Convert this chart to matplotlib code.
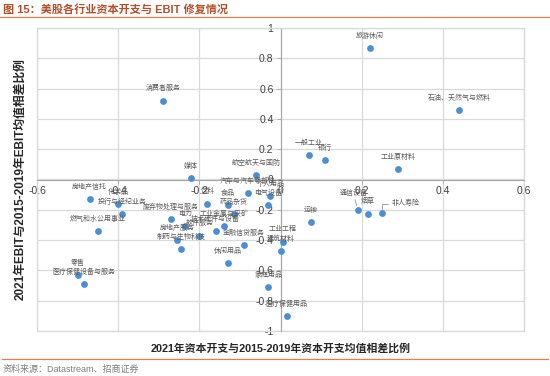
import matplotlib
matplotlib.use("Agg")
import matplotlib.pyplot as plt
from matplotlib.patches import Rectangle
from matplotlib.lines import Line2D
from matplotlib.ticker import FuncFormatter, MultipleLocator

plt.rcParams['font.family'] = ['Liberation Sans', 'Noto Sans CJK SC', 'DejaVu Sans']
plt.rcParams['axes.unicode_minus'] = False

# 行业名称, 资本开支差异 (x), EBIT差异 (y)
industries = ['消费者服务', '媒体', '航空航天与国防', '旅游休闲', '石油、天然气与燃料',
              '一般工业', '银行', '工业原材料', '房地产信托', '化学品', '投行与经纪业务',
              '燃气和水公用事业', '零售', '医疗保健设备与服务', '汽车与汽车零部件', '个人用品',
              '电气设备', '饮料', '食品', '药品杂货', '废弃物处理与服务', '电力',
              '工业金属与采矿', '技术硬件与设备', '软件服务', '房地产服务', '制药与生物科技',
              '金融信贷服务', '工业工程', '建筑材料', '休闲用品', '家庭用品', '医疗保健用品',
              '运输', '通信设备', '烟草', '非人寿险']
capex_diff = [-0.29, -0.22, -0.06, 0.22, 0.44,
              0.07, 0.11, 0.29, -0.47, -0.40, -0.39,
              -0.45, -0.50, -0.485, -0.08, -0.025,
              -0.03, -0.18, -0.13, -0.115, -0.27, -0.235,
              -0.14, -0.16, -0.20, -0.255, -0.245,
              -0.09, 0.005, 0.0, -0.13, -0.03, 0.015,
              0.075, 0.19, 0.215, 0.25]
ebit_diff = [0.52, 0.01, 0.03, 0.87, 0.46,
             0.16, 0.13, 0.07, -0.13, -0.16, -0.23,
             -0.34, -0.63, -0.69, -0.09, -0.11,
             -0.17, -0.16, -0.17, -0.23, -0.26, -0.31,
             -0.31, -0.34, -0.37, -0.40, -0.46,
             -0.43, -0.41, -0.475, -0.55, -0.71, -0.90,
             -0.28, -0.20, -0.225, -0.22]

fig = plt.figure(figsize=(5.5, 3.76), dpi=100)
ax = fig.add_axes([37/550, 1-331/376, (524-37)/550, (331-28)/376])

ax.scatter(capex_diff, ebit_diff, s=24, color='#4a8fd6', zorder=3, linewidths=0)

label_color = '#595959'
for name, x, y in zip(industries, capex_diff, ebit_diff):
    if name == '通信设备':
        ax.annotate(name, (x, y), xytext=(-3, 12), textcoords='offset points',
                    ha='center', va='center', fontsize=5, color=label_color,
                    arrowprops=dict(arrowstyle='-', color='#7f7f7f', lw=0.5,
                                    shrinkA=0, shrinkB=3), zorder=4)
    elif name == '非人寿险':
        ax.annotate(name, (x, y), xytext=(7, 6.5), textcoords='offset points',
                    ha='left', va='center', fontsize=5, color=label_color,
                    arrowprops=dict(arrowstyle='-', color='#7f7f7f', lw=0.5,
                                    shrinkA=1, shrinkB=3, relpos=(0, 0.5),
                                    connectionstyle='angle,angleA=0,angleB=90,rad=0'),
                    zorder=4)
    else:
        ax.annotate(name, (x, y), xytext=(0, 8.5), textcoords='offset points',
                    ha='center', va='center', fontsize=5, color=label_color, zorder=4)

ax.set_xlim(-0.6, 0.6)
ax.set_ylim(-1, 1)
ax.xaxis.set_major_locator(MultipleLocator(0.2))
ax.yaxis.set_major_locator(MultipleLocator(0.2))
fmt = FuncFormatter(lambda v, p: '%g' % round(v, 2))
ax.xaxis.set_major_formatter(fmt)
ax.yaxis.set_major_formatter(fmt)
ax.grid(True, color='#d9d9d9', linewidth=0.9, zorder=0)
ax.set_axisbelow(True)

ax.spines['left'].set_position(('data', 0))
ax.spines['bottom'].set_position(('data', 0))
for s in ['left', 'bottom']:
    ax.spines[s].set_color('#a6a6a6')
    ax.spines[s].set_linewidth(0.8)
for s in ['top', 'right']:
    ax.spines[s].set_color('#d9d9d9')
ax.add_patch(Rectangle((0, 0), 1, 1, transform=ax.transAxes, fill=False,
                       edgecolor='#d9d9d9', linewidth=0.9, zorder=1, clip_on=False))
ax.tick_params(axis='both', labelsize=7.5, colors='#404040', length=3, width=0.6,
               color='#a6a6a6', pad=2)

fig.text(281/550, 1-348/376, '2021年资本开支与2015-2019年资本开支均值相差比例',
         ha='center', va='center', fontsize=7.8, fontweight='bold', color='#262626')
fig.text(20/550, 1-179/376, '2021年EBIT与2015-2019年EBIT均值相差比例',
         ha='center', va='center', rotation=90, fontsize=8.5, fontweight='bold',
         color='#262626')

# 标题和来源
fig.text(3/550, 1-9/376, '图 15：美股各行业资本开支与 EBIT 修复情况', ha='left', va='center',
         fontsize=8, fontweight='bold', color='#b0502a')
fig.add_artist(Line2D([0, 1], [1-17/376, 1-17/376], transform=fig.transFigure,
                      color='#e0804f', linewidth=0.9))
fig.add_artist(Line2D([2/550, 548/550], [1-359/376, 1-359/376], transform=fig.transFigure,
                      color='#e0804f', linewidth=0.9))
fig.text(3/550, 1-369/376, '资料来源：Datastream、招商证券', ha='left', va='center',
         fontsize=6.5, color='#7f7f7f')

fig.savefig('out.png', dpi=100)
